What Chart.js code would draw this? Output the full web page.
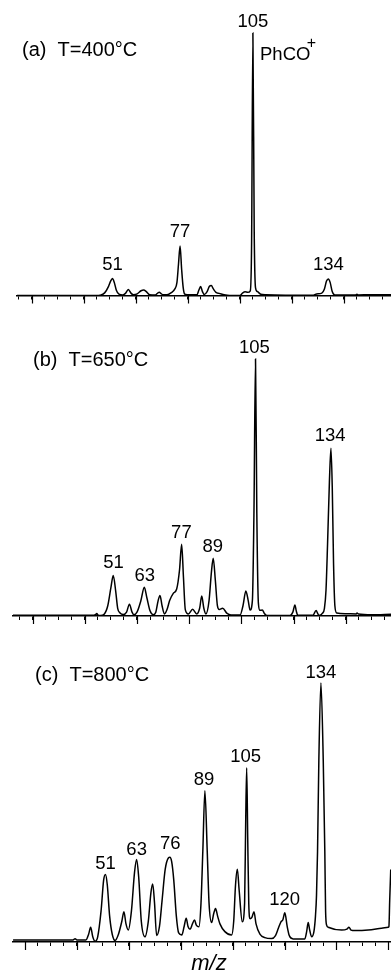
<!DOCTYPE html>
<html><head><meta charset="utf-8">
<script src="https://cdn.jsdelivr.net/npm/chart.js@4.4.0/dist/chart.umd.min.js"></script>
<style>
html,body{margin:0;padding:0;background:#fff;width:391px;height:971px;overflow:hidden}
canvas{position:absolute;left:0}
</style></head><body>
<canvas id="ca" style="top:0px;width:391px;height:310px"></canvas>
<canvas id="cb" style="top:310px;width:391px;height:320px"></canvas>
<canvas id="cc" style="top:630px;width:391px;height:341px"></canvas>
<script>
// ---- data: [m/z, relative intensity] ----
const traceA = [[14.3,0],[45,0],[46.2,0.1],[48,1],[49.5,3.5],[50.3,5.5],[51,6.5],[51.7,5],[52.5,2],[53.5,0.5],[55,0.2],[56,0.8],[57.1,2.3],[58.2,0.8],[59,0.3],[60.5,0.6],[62,1.8],[63,2.1],[64,1.5],[65.3,0.3],[67.5,0.2],[68.5,1.0],[69,1.2],[69.7,0.7],[70.5,0.3],[72,0.3],[73.5,1],[75,2.5],[75.8,5],[76.4,12],[77,18.9],[77.6,10],[78.2,3],[78.8,0.5],[79.7,0.3],[83.5,0.3],[84.2,2],[84.9,3.4],[85.6,1.5],[86.3,0.4],[87.4,1.5],[88.3,3.5],[89,3.8],[89.8,2.5],[90.8,1.2],[92,0.8],[93.5,0.4],[96,0],[100,0],[101,0.9],[102,1.4],[103,1.2],[104,1.8],[104.5,20],[105,100],[105.5,25],[106,3],[106.7,1.5],[108,0.5],[110,0.3],[128,0.1],[129.5,0.6],[131.5,0.9],[132.5,2.5],[133.3,5.5],[134,6.3],[134.7,5],[135.5,1.5],[136.5,0.2],[140,0.2],[144.5,0.2],[145,0.5],[145.5,0.2],[150,0.3],[158.1,0.3]];
const traceB = [[12.5,0.3],[43.5,0.3],[44.2,0.6],[44.6,1.0],[45.1,0.3],[46,0.2],[47.5,0.8],[48.8,4],[50,11],[50.9,15.8],[51.8,10],[52.6,3],[53.5,1.2],[54.8,0.6],[56,1.5],[57.1,4.6],[58.1,1.5],[58.8,0.5],[60,1.5],[61.5,6],[62.8,11.2],[63.8,7],[65,2],[66.2,0.5],[67.2,1.5],[68.1,6],[68.8,8],[69.6,4],[70.5,0.8],[71.5,2.5],[72.5,6],[73.9,8.8],[75.2,10.5],[76.3,18],[77.1,27.9],[77.8,15],[78.5,2.5],[79.7,0.8],[81.3,2.6],[82.9,0.8],[84,3],[84.8,7.8],[85.6,3],[86.4,0.8],[87.6,6],[88.5,17],[89.2,22.5],[90,14],[90.8,4],[91.5,2.5],[92.8,3.0],[94.5,1.0],[96,0.4],[99.5,0.4],[100.6,4],[101.7,9.7],[102.6,6],[103.3,2.3],[104.2,6],[104.8,40],[105.4,100],[105.9,40],[106.5,5],[107.1,2.2],[108,2.3],[108.8,1],[109.7,0.2],[118.6,0.2],[119.7,1.5],[120.5,4.3],[121,2],[121.6,0.3],[127.4,0.3],[128.6,2.1],[129.3,0.8],[129.7,0.2],[131,1],[131.8,3],[132.4,10],[133,28],[133.7,52],[134.3,65.3],[134.8,50],[135.3,20],[135.8,4],[136.5,1.2],[140,0.9],[144,0.8],[144.3,1.2],[144.8,0.8],[150,0.5],[157.3,0.7]];
const traceC = [[15.4,0.8],[38.5,0.8],[39.3,1.3],[40,0.8],[43.5,0.8],[44.5,3],[45.3,5.7],[46.1,2],[47,0.3],[48,2],[49.3,12],[50.3,24],[51,26.1],[51.7,22],[52.6,10],[53.6,3],[54.7,0.6],[56,3],[57.3,8],[58.1,11.7],[58.9,7],[59.8,4.6],[61,12],[62.2,27],[63,31.9],[63.8,25],[64.8,8],[66.2,2.0],[67.5,8],[68.5,19],[69.2,22.4],[69.9,15],[70.7,2.5],[71.8,6],[72.8,16],[74,28],[75.3,32.5],[75.8,32.7],[76.5,31],[77.3,24],[78.3,10],[79.2,3.5],[80.4,2.7],[81.3,6],[82.1,9.2],[82.8,6],[83.6,4.9],[84.5,7],[85.3,8.5],[86,6.5],[87,5.9],[87.8,15],[88.5,35],[89.3,58.4],[90.2,35],[90.9,15],[91.9,7.5],[92.7,11],[93.4,12.9],[94.2,10],[95.1,7],[97,4.0],[99.6,2.7],[100.4,8],[101.1,22],[101.8,28.1],[102.5,20],[103.7,7.8],[104.6,15],[105,45],[105.4,67.3],[105.8,40],[106.2,15],[106.7,9],[107.4,9.5],[108.2,11.7],[109,7],[110.5,3],[112.4,1.7],[115,1.35],[116.5,2.5],[117.6,5.3],[118.6,7.8],[119.3,8.5],[120.1,11.3],[121,6],[121.8,2.5],[123.3,1.2],[127.8,1.2],[128.5,4],[129.1,7.5],[129.6,5],[130.4,2.0],[131.3,4],[131.9,10],[132.3,18],[132.7,35],[133.2,70],[134,100],[134.9,70],[135.5,35],[135.8,12],[136.2,6.5],[136.8,5.7],[142,4.6],[144,5.0],[144.8,5.7],[145.6,4.6],[147.1,4.4],[152.2,4.6],[157.4,5.3],[159.9,5.7],[160.2,6],[160.5,16],[160.9,28]];

// peak labels (m/z) and the intensity level where each label sits
const peaksA = [51, 77, 105, 134];
const peakLevelA = [11.6, 24.2, 104.2, 11.6];
const peaksB = [51, 63, 77, 89, 105, 134];
const peakLevelB = [20.6, 15.6, 32.3, 26.8, 104.3, 70.0];
const peaksC = [51, 63, 76, 89, 105, 120, 134];
const peakLevelC = [30.1, 35.5, 37.8, 62.5, 71.4, 16.2, 103.9];

const titles = ['(a)  T=400°C', '(b)  T=650°C', '(c)  T=800°C'];
const ionLabel = 'PhCO';
const axisLabel = 'm/z';

const FONT = '"Liberation Sans", Arial, Helvetica, sans-serif';

const deco = {
  id: 'deco',
  afterDraw(chart, args, o) {
    const ctx = chart.ctx, xs = chart.scales.x, ys = chart.scales.y, ca = chart.chartArea;
    ctx.save();
    // major ticks every 20
    ctx.strokeStyle = '#000'; ctx.lineWidth = 1.2;
    for (let v = Math.ceil(xs.min / 20) * 20; v <= xs.max; v += 20) {
      const px = Math.round(xs.getPixelForValue(v)) + 0.5;
      ctx.beginPath(); ctx.moveTo(px, ca.bottom); ctx.lineTo(px, ca.bottom + 8); ctx.stroke();
    }
    ctx.fillStyle = '#000';
    ctx.font = '18.5px ' + FONT;
    ctx.textAlign = 'center'; ctx.textBaseline = 'middle';
    o.peaks.forEach((m, i) => ctx.fillText(String(m), xs.getPixelForValue(m), ys.getPixelForValue(o.levels[i])));
    ctx.textAlign = 'left';
    ctx.font = '20px ' + FONT;
    ctx.fillText(o.title, o.tx, o.ty);
    if (o.ion) {
      ctx.font = '18.5px ' + FONT; ctx.textBaseline = 'alphabetic';
      ctx.fillText(o.ion, 260, 60);
      ctx.font = '16px ' + FONT; ctx.textAlign = 'center'; ctx.textBaseline = 'middle';
      ctx.fillText('+', 311.5, 44);
    }
    if (o.axis) {
      ctx.font = 'italic 22px ' + FONT; ctx.textAlign = 'center'; ctx.textBaseline = 'middle';
      ctx.fillText(o.axis, 209, 334);
    }
    ctx.restore();
  }
};

function make(id, trace, xmin, xmax, ymax, pad, deco_opts, h) {
  const cv = document.getElementById(id);
  cv.width = 391; cv.height = h;
  return new Chart(cv, {
    type: 'line',
    data: { datasets: [{ data: trace.map(p => ({x: p[0], y: p[1]})), borderColor: '#000', borderWidth: 1.5, pointRadius: 0, cubicInterpolationMode: 'monotone', fill: false }] },
    options: {
      responsive: false, animation: false, devicePixelRatio: 1,
      layout: { padding: pad },
      plugins: { legend: { display: false }, tooltip: { enabled: false }, deco: deco_opts },
      scales: {
        x: { type: 'linear', min: xmin, max: xmax,
             ticks: { display: false, stepSize: 5, includeBounds: false, autoSkip: false },
             grid: { drawOnChartArea: false, drawTicks: true, tickLength: 4, color: '#000', tickColor: '#000', lineWidth: 1 },
             border: { display: true, color: '#000', width: 1.5 },
             afterFit: s => { s.height = 10; } },
        y: { display: false, min: 0, max: ymax }
      }
    },
    plugins: [deco]
  });
}

make('ca', traceA, 14.3, 158.1, 110.67, {left: 17, right: 0, top: 5, bottom: 4.5},
  {peaks: peaksA, levels: peakLevelA, title: titles[0], tx: 22, ty: 50, ion: ionLabel}, 310);
make('cb', traceB, 12.5, 157.3, 117.12, {left: 13, right: 0, top: 5, bottom: 4},
  {peaks: peaksB, levels: peakLevelB, title: titles[1], tx: 33, ty: 50}, 320);
make('cc', traceC, 15.37, 161.0, 118.53, {left: 13, right: 0, top: 5, bottom: 19},
  {peaks: peaksC, levels: peakLevelC, title: titles[2], tx: 35, ty: 45, axis: axisLabel}, 341);
</script>
</body></html>
